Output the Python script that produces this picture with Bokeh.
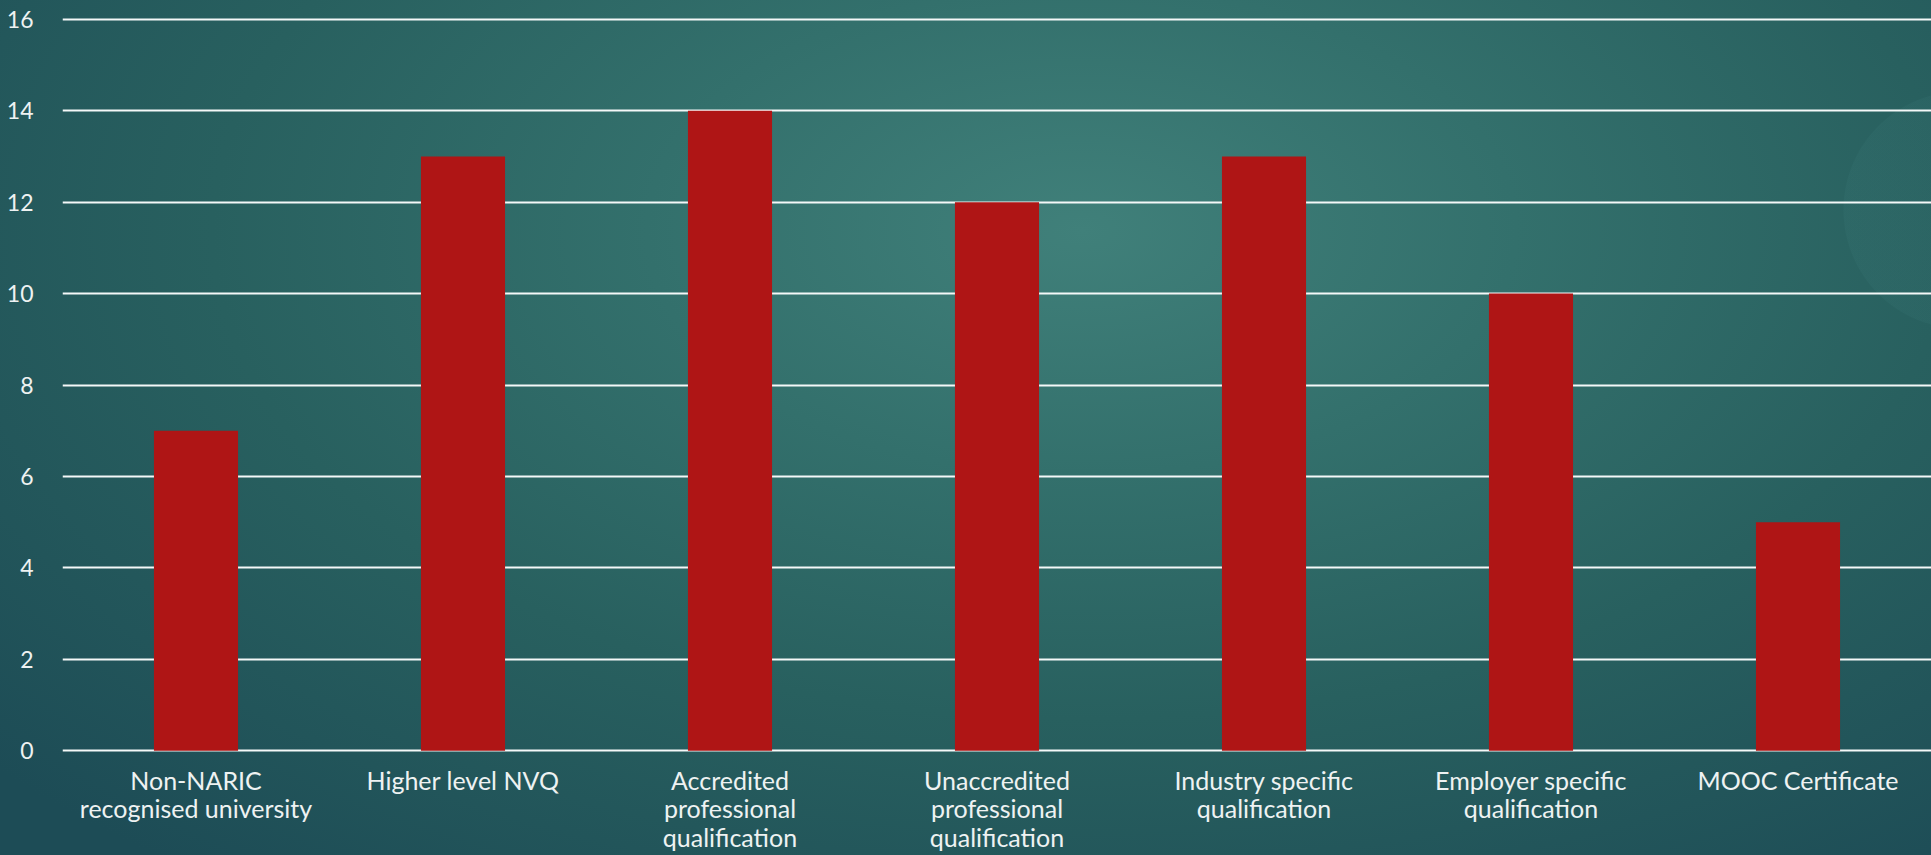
from bokeh.plotting import figure
from bokeh.models import ColumnDataSource, FixedTicker, InlineStyleSheet, Range1d
from bokeh.embed import file_html
from bokeh.resources import INLINE

categories = [
    "Non-NARIC\nrecognised university",
    "Higher level NVQ",
    "Accredited\nprofessional\nqualification",
    "Unaccredited\nprofessional\nqualification",
    "Industry specific\nqualification",
    "Employer specific\nqualification",
    "MOOC Certificate",
]
counts = [7, 13, 14, 12, 13, 10, 5]
y_ticks = [0, 2, 4, 6, 8, 10, 12, 14, 16]

FONT = "Lato"
TEXT = "#eef2f2"

bg_css = """
:host {
  background:
    radial-gradient(circle at 1962px 210px, rgba(120,200,200,0.045) 0px, rgba(120,200,200,0.045) 118px, rgba(0,0,0,0) 119px),
    radial-gradient(ellipse 75% 95% at 56% 27%, #40807a 0%, #33706c 30%, #28605f 60%, #1d4c56 100%);
}
"""

p = figure(
    x_range=categories, y_range=Range1d(-0.04, 16.04),
    width=1931, height=855,
    output_backend="svg", toolbar_location=None,
    min_border_left=62, min_border_right=0, min_border_top=17, min_border_bottom=103,
    background_fill_alpha=0, border_fill_alpha=0, outline_line_color=None,
    stylesheets=[InlineStyleSheet(css=bg_css)],
)

src = ColumnDataSource(dict(cat=categories, val=counts))
p.vbar(x="cat", top="val", bottom=0, width=0.315, source=src, fill_color="#af1515", line_color=None)

p.ygrid.grid_line_color = "#f4f8f8"
p.ygrid.grid_line_width = 2
p.ygrid.ticker = FixedTicker(ticks=y_ticks)
p.xgrid.grid_line_color = None

p.yaxis.ticker = FixedTicker(ticks=y_ticks)
p.yaxis.axis_line_color = None
p.yaxis.major_tick_line_color = None
p.yaxis.minor_tick_line_color = None
p.yaxis.major_label_standoff = 23
p.yaxis.major_label_text_font = FONT
p.yaxis.major_label_text_font_size = "23px"
p.yaxis.major_label_text_color = TEXT

p.xaxis.axis_line_color = None
p.xaxis.major_tick_line_color = None
p.xaxis.minor_tick_line_color = None
p.xaxis.major_label_standoff = 6
p.xaxis.major_label_text_font = FONT
p.xaxis.major_label_text_font_size = "25px"
p.xaxis.major_label_text_color = TEXT
p.xaxis.major_label_text_line_height = 0.95

open("out.html", "w").write(file_html(p, INLINE))
